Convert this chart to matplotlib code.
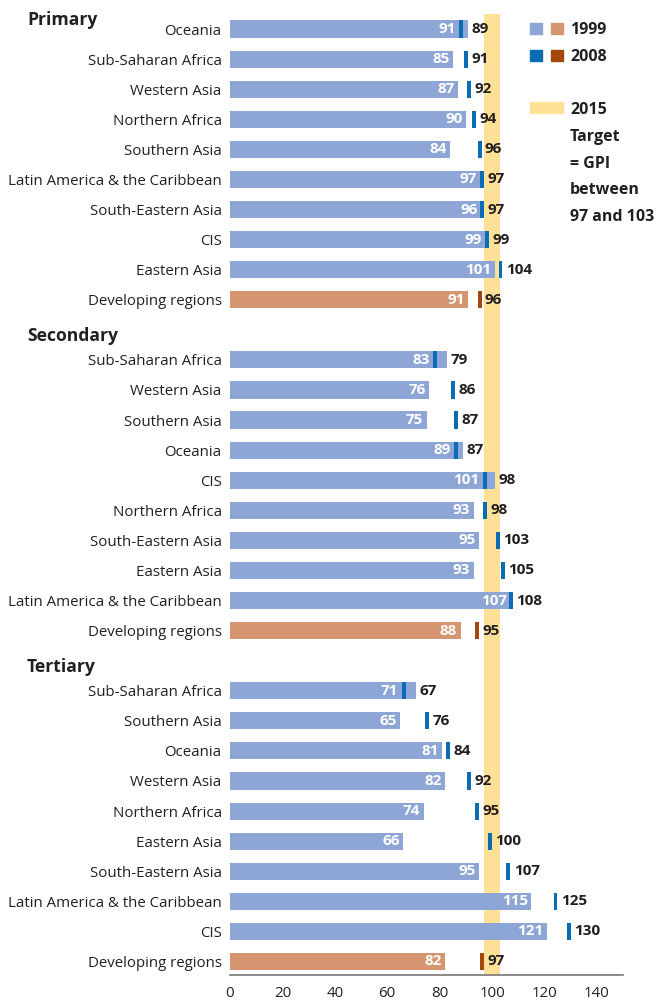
import matplotlib.pyplot as plt
import matplotlib.transforms as mtransforms
from matplotlib.patches import Rectangle

plt.rcParams['font.family'] = ['Open Sans', 'DejaVu Sans']

groups = ["Primary", "Secondary", "Tertiary"]

primary_names = ["Oceania", "Sub-Saharan Africa", "Western Asia", "Northern Africa",
                 "Southern Asia", "Latin America & the Caribbean", "South-Eastern Asia",
                 "CIS", "Eastern Asia", "Developing regions"]
primary_1999 = [91, 85, 87, 90, 84, 97, 96, 99, 101, 91]
primary_2008 = [89, 91, 92, 94, 96, 97, 97, 99, 104, 96]

secondary_names = ["Sub-Saharan Africa", "Western Asia", "Southern Asia", "Oceania", "CIS",
                   "Northern Africa", "South-Eastern Asia", "Eastern Asia",
                   "Latin America & the Caribbean", "Developing regions"]
secondary_1999 = [83, 76, 75, 89, 101, 93, 95, 93, 107, 88]
secondary_2008 = [79, 86, 87, 87, 98, 98, 103, 105, 108, 95]

tertiary_names = ["Sub-Saharan Africa", "Southern Asia", "Oceania", "Western Asia",
                  "Northern Africa", "Eastern Asia", "South-Eastern Asia",
                  "Latin America & the Caribbean", "CIS", "Developing regions"]
tertiary_1999 = [71, 65, 81, 82, 74, 66, 95, 115, 121, 82]
tertiary_2008 = [67, 76, 84, 92, 95, 100, 107, 125, 130, 97]

target_low, target_high = 97, 103

c99 = "#8da6d5"
c08 = "#0a6cb4"
c99_dev = "#d49570"
c08_dev = "#a5460c"
band = "#fee196"
txt = "#231f20"

fig = plt.figure(figsize=(6.57, 10.01), dpi=100)
ax = fig.add_axes([230 / 657, 1 - 975 / 1001, 393 / 657, 961 / 1001])

ax.axvspan(target_low, target_high, color=band, zorder=0, lw=0)

names_all = [primary_names, secondary_names, tertiary_names]
v99_all = [primary_1999, secondary_1999, tertiary_1999]
v08_all = [primary_2008, secondary_2008, tertiary_2008]

mark_w = 1.5
bar_h = 0.57
yticks, ylabels = [], []
header_y = []
for g, (names, v99, v08) in enumerate(zip(names_all, v99_all, v08_all)):
    start = g * 11
    header_y.append(start - 0.3 - (0.5 if g else 0))
    for i, (n, a, b) in enumerate(zip(names, v99, v08)):
        y = start + i
        dev = n == "Developing regions"
        ax.barh(y, a, height=bar_h, color=c99_dev if dev else c99, zorder=2)
        ax.barh(y, mark_w, left=b - mark_w, height=bar_h,
                color=c08_dev if dev else c08, zorder=3)
        inner = min(a, b - mark_w) if b <= a else a
        ax.text(inner - 1.3, y, str(a), ha="right", va="center", color="white",
                fontsize=11, fontweight="bold", zorder=4)
        ax.text(max(a, b) + 1.3, y, str(b), ha="left", va="center", color=txt,
                fontsize=11, fontweight="bold", zorder=4)
        yticks.append(y)
        ylabels.append(n)

ax.set_yticks(yticks)
ax.set_yticklabels(ylabels, fontsize=10.8, color=txt)
ax.tick_params(axis="y", length=0, pad=6)
ax.tick_params(axis="x", length=0, labelsize=10.8, labelcolor=txt, pad=8)
ax.set_xticks(range(0, 141, 20))
ax.set_xlim(0, 150)
ax.set_ylim(31.45, -0.5)
for s in ["top", "right", "left"]:
    ax.spines[s].set_visible(False)
ax.spines["bottom"].set_color("#777777")
ax.spines["bottom"].set_linewidth(1.2)

trans = mtransforms.blended_transform_factory(fig.transFigure, ax.transData)
for h, y in zip(groups, header_y):
    ax.text(27 / 657, y, h, transform=trans, ha="left", va="center",
            fontsize=12.6, fontweight="bold", color=txt)

# legend
def fx(px):
    return px / 657

def fy(py):
    return 1 - py / 1001

fig.patches.append(Rectangle((fx(530), fy(34)), 12 / 657, 11 / 1001, color=c99,
                             transform=fig.transFigure))
fig.patches.append(Rectangle((fx(551), fy(34)), 12 / 657, 11 / 1001, color=c99_dev,
                             transform=fig.transFigure))
fig.patches.append(Rectangle((fx(530), fy(61)), 12 / 657, 11 / 1001, color=c08,
                             transform=fig.transFigure))
fig.patches.append(Rectangle((fx(551), fy(61)), 12 / 657, 11 / 1001, color=c08_dev,
                             transform=fig.transFigure))
fig.patches.append(Rectangle((fx(530), fy(113)), 33 / 657, 11 / 1001, color=band,
                             transform=fig.transFigure))
fig.text(fx(570), fy(30), "1999", ha="left", va="center", fontsize=11.5,
         fontweight="bold", color=txt)
fig.text(fx(570), fy(57), "2008", ha="left", va="center", fontsize=11.5,
         fontweight="bold", color=txt)
for k, line in enumerate(["2015", "Target", "= GPI", "between", "97 and 103"]):
    fig.text(fx(570), fy(110 + 26.8 * k), line, ha="left", va="center",
             fontsize=11.5, fontweight="bold", color=txt)

fig.savefig("out.png", dpi=100)
